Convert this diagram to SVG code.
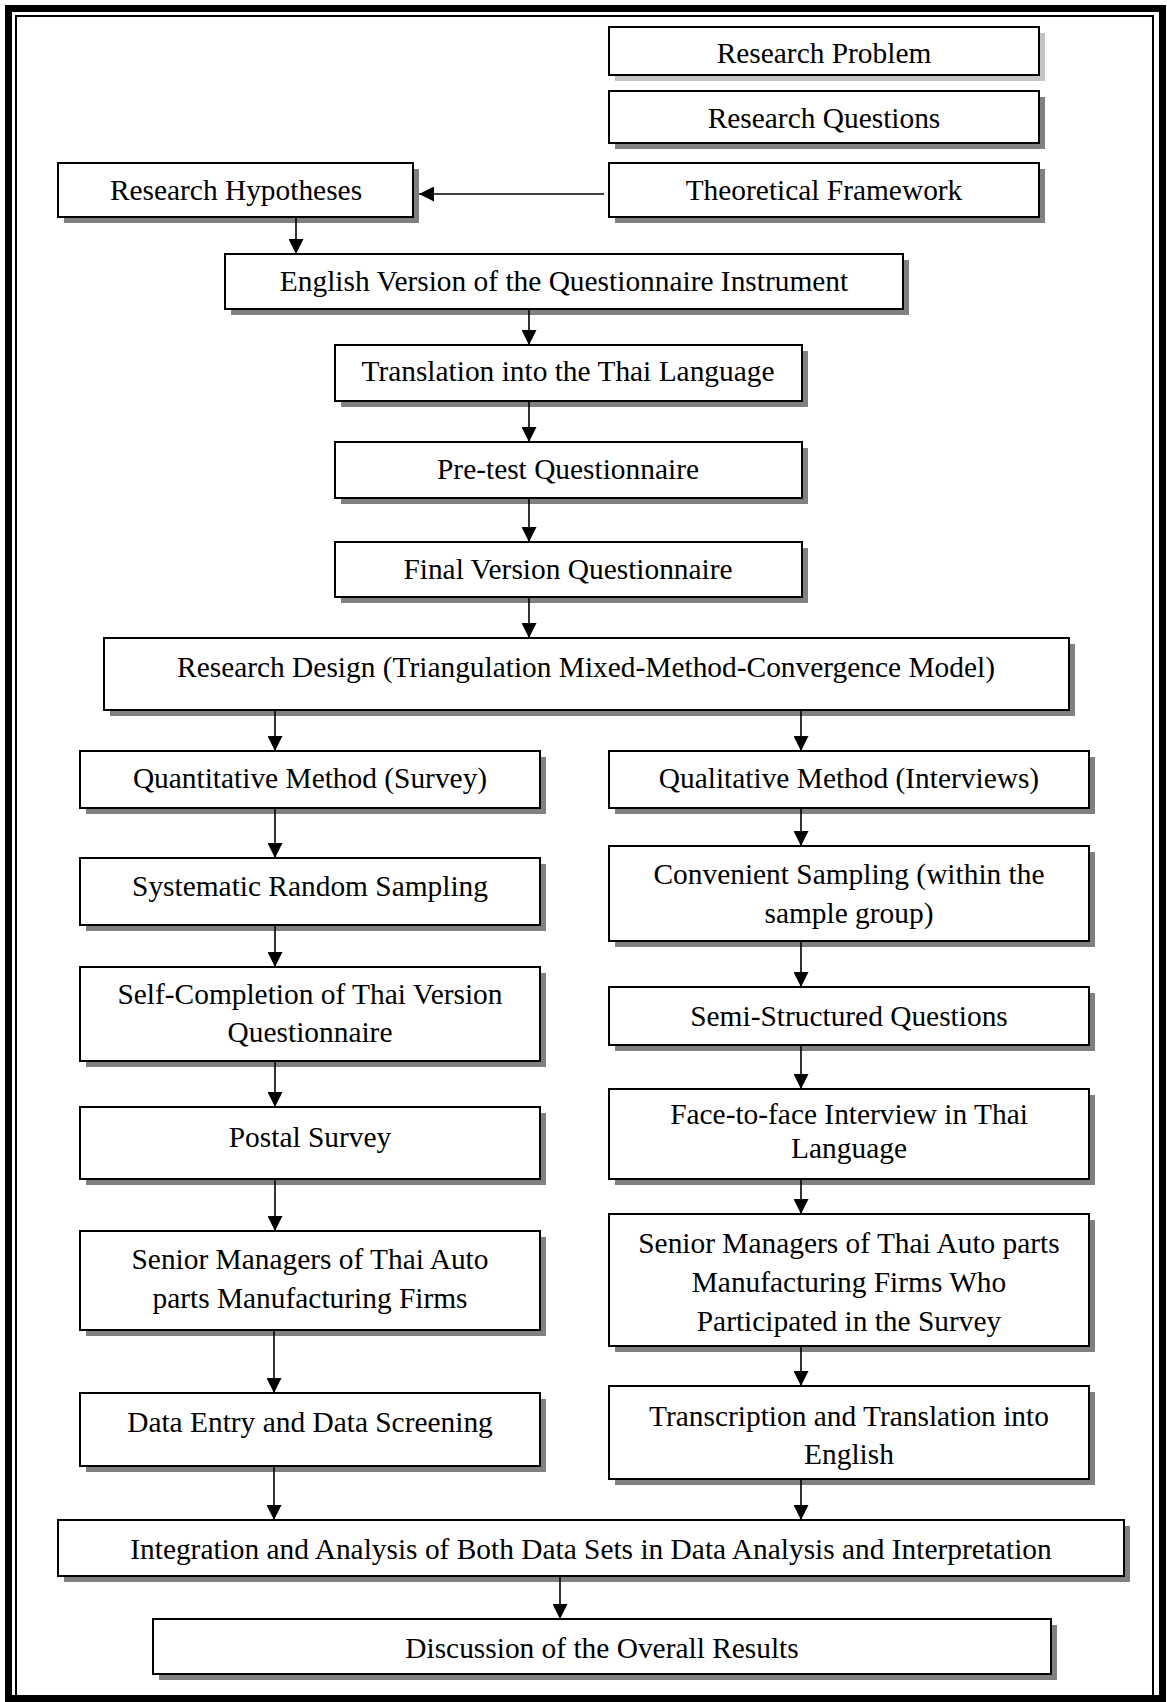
<svg xmlns="http://www.w3.org/2000/svg" width="1167" height="1702" viewBox="0 0 1167 1702">
  <style>
    .shadow { fill: #808080; }
    .shadow-light { fill: #c4c4c4; }
    .box { fill: #ffffff; stroke: #000000; stroke-width: 2; }
    .lbl { font-family: "Liberation Serif", "Times New Roman", serif; font-size: 29.4px; fill: #000000; text-anchor: middle; }
    .conn { stroke: #000000; stroke-width: 1.6; fill: none; marker-end: url(#ah); }
  </style>
  <defs>
    <marker id="ah" markerWidth="15" markerHeight="15" refX="15" refY="7.5" orient="auto" markerUnits="userSpaceOnUse">
      <path d="M0,0 L15,7.5 L0,15 Z" fill="#000000"/>
    </marker>
  </defs>

  <rect width="1167" height="1702" fill="#ffffff"/>

  <!-- double page frame -->
  <rect x="8.5" y="8.5" width="1154" height="1690" fill="none" stroke="#000000" stroke-width="7"/>
  <rect x="16" y="16" width="1137" height="1680" fill="none" stroke="#000000" stroke-width="2"/>

  <!-- nodes -->
  <g id="research-problem">
    <rect class="shadow-light" x="615" y="33" width="430" height="48"/>
    <rect class="box" x="609" y="27" width="430" height="48"/>
    <text class="lbl" x="824" y="63">Research Problem</text>
  </g>
  <g id="research-questions">
    <rect class="shadow" x="615" y="97" width="430" height="52"/>
    <rect class="box" x="609" y="91" width="430" height="52"/>
    <text class="lbl" x="824" y="128">Research Questions</text>
  </g>
  <g id="theoretical-framework">
    <rect class="shadow" x="615" y="169" width="430" height="54"/>
    <rect class="box" x="609" y="163" width="430" height="54"/>
    <text class="lbl" x="824" y="200">Theoretical Framework</text>
  </g>
  <g id="research-hypotheses">
    <rect class="shadow" x="64" y="169" width="355" height="54"/>
    <rect class="box" x="58" y="163" width="355" height="54"/>
    <text class="lbl" x="236" y="200">Research Hypotheses</text>
  </g>
  <g id="english-version">
    <rect class="shadow" x="231" y="260" width="678" height="55"/>
    <rect class="box" x="225" y="254" width="678" height="55"/>
    <text class="lbl" x="564" y="291">English Version of the Questionnaire Instrument</text>
  </g>
  <g id="translation">
    <rect class="shadow" x="341" y="351" width="467" height="56"/>
    <rect class="box" x="335" y="345" width="467" height="56"/>
    <text class="lbl" x="568" y="381">Translation into the Thai Language</text>
  </g>
  <g id="pre-test">
    <rect class="shadow" x="341" y="448" width="467" height="56"/>
    <rect class="box" x="335" y="442" width="467" height="56"/>
    <text class="lbl" x="568" y="479">Pre-test Questionnaire</text>
  </g>
  <g id="final-version">
    <rect class="shadow" x="341" y="548" width="467" height="55"/>
    <rect class="box" x="335" y="542" width="467" height="55"/>
    <text class="lbl" x="568" y="579">Final Version Questionnaire</text>
  </g>
  <g id="research-design">
    <rect class="shadow" x="110" y="644" width="965" height="72"/>
    <rect class="box" x="104" y="638" width="965" height="72"/>
    <text class="lbl" x="586" y="677">Research Design (Triangulation Mixed-Method-Convergence Model)</text>
  </g>

  <g id="quantitative-method">
    <rect class="shadow" x="86" y="757" width="460" height="57"/>
    <rect class="box" x="80" y="751" width="460" height="57"/>
    <text class="lbl" x="310" y="788">Quantitative Method (Survey)</text>
  </g>
  <g id="systematic-sampling">
    <rect class="shadow" x="86" y="864" width="460" height="67"/>
    <rect class="box" x="80" y="858" width="460" height="67"/>
    <text class="lbl" x="310" y="896">Systematic Random Sampling</text>
  </g>
  <g id="self-completion">
    <rect class="shadow" x="86" y="973" width="460" height="94"/>
    <rect class="box" x="80" y="967" width="460" height="94"/>
    <text class="lbl" x="310" y="1004">Self-Completion of Thai Version</text>
    <text class="lbl" x="310" y="1042">Questionnaire</text>
  </g>
  <g id="postal-survey">
    <rect class="shadow" x="86" y="1113" width="460" height="72"/>
    <rect class="box" x="80" y="1107" width="460" height="72"/>
    <text class="lbl" x="310" y="1147">Postal Survey</text>
  </g>
  <g id="senior-managers-survey">
    <rect class="shadow" x="86" y="1237" width="460" height="99"/>
    <rect class="box" x="80" y="1231" width="460" height="99"/>
    <text class="lbl" x="310" y="1269">Senior Managers of Thai Auto</text>
    <text class="lbl" x="310" y="1308">parts Manufacturing Firms</text>
  </g>
  <g id="data-entry">
    <rect class="shadow" x="86" y="1399" width="460" height="73"/>
    <rect class="box" x="80" y="1393" width="460" height="73"/>
    <text class="lbl" x="310" y="1432">Data Entry and Data Screening</text>
  </g>

  <g id="qualitative-method">
    <rect class="shadow" x="615" y="757" width="480" height="57"/>
    <rect class="box" x="609" y="751" width="480" height="57"/>
    <text class="lbl" x="849" y="788">Qualitative Method (Interviews)</text>
  </g>
  <g id="convenient-sampling">
    <rect class="shadow" x="615" y="852" width="480" height="95"/>
    <rect class="box" x="609" y="846" width="480" height="95"/>
    <text class="lbl" x="849" y="884">Convenient Sampling (within the</text>
    <text class="lbl" x="849" y="923">sample group)</text>
  </g>
  <g id="semi-structured">
    <rect class="shadow" x="615" y="993" width="480" height="58"/>
    <rect class="box" x="609" y="987" width="480" height="58"/>
    <text class="lbl" x="849" y="1026">Semi-Structured Questions</text>
  </g>
  <g id="face-to-face">
    <rect class="shadow" x="615" y="1095" width="480" height="90"/>
    <rect class="box" x="609" y="1089" width="480" height="90"/>
    <text class="lbl" x="849" y="1124">Face-to-face Interview in Thai</text>
    <text class="lbl" x="849" y="1158">Language</text>
  </g>
  <g id="senior-managers-interview">
    <rect class="shadow" x="615" y="1220" width="480" height="132"/>
    <rect class="box" x="609" y="1214" width="480" height="132"/>
    <text class="lbl" x="849" y="1253">Senior Managers of Thai Auto parts</text>
    <text class="lbl" x="849" y="1292">Manufacturing Firms Who</text>
    <text class="lbl" x="849" y="1331">Participated in the Survey</text>
  </g>
  <g id="transcription">
    <rect class="shadow" x="615" y="1392" width="480" height="93"/>
    <rect class="box" x="609" y="1386" width="480" height="93"/>
    <text class="lbl" x="849" y="1426">Transcription and Translation into</text>
    <text class="lbl" x="849" y="1464">English</text>
  </g>

  <g id="integration">
    <rect class="shadow" x="64" y="1526" width="1066" height="56"/>
    <rect class="box" x="58" y="1520" width="1066" height="56"/>
    <text class="lbl" x="591" y="1559">Integration and Analysis of Both Data Sets in Data Analysis and Interpretation</text>
  </g>
  <g id="discussion">
    <rect class="shadow" x="159" y="1625" width="898" height="55"/>
    <rect class="box" x="153" y="1619" width="898" height="55"/>
    <text class="lbl" x="602" y="1658">Discussion of the Overall Results</text>
  </g>

  <!-- connectors -->
  <g id="connectors">
    <line class="conn" x1="604" y1="194" x2="419" y2="194"/>
    <line class="conn" x1="296" y1="217" x2="296" y2="254"/>
    <line class="conn" x1="529" y1="309" x2="529" y2="345"/>
    <line class="conn" x1="529" y1="401" x2="529" y2="442"/>
    <line class="conn" x1="529" y1="498" x2="529" y2="542"/>
    <line class="conn" x1="529" y1="597" x2="529" y2="638"/>
    <line class="conn" x1="275" y1="710" x2="275" y2="751"/>
    <line class="conn" x1="801" y1="710" x2="801" y2="751"/>
    <line class="conn" x1="275" y1="808" x2="275" y2="858"/>
    <line class="conn" x1="275" y1="925" x2="275" y2="967"/>
    <line class="conn" x1="275" y1="1061" x2="275" y2="1107"/>
    <line class="conn" x1="275" y1="1179" x2="275" y2="1231"/>
    <line class="conn" x1="274" y1="1330" x2="274" y2="1393"/>
    <line class="conn" x1="274" y1="1466" x2="274" y2="1520"/>
    <line class="conn" x1="801" y1="808" x2="801" y2="846"/>
    <line class="conn" x1="801" y1="941" x2="801" y2="987"/>
    <line class="conn" x1="801" y1="1045" x2="801" y2="1089"/>
    <line class="conn" x1="801" y1="1179" x2="801" y2="1214"/>
    <line class="conn" x1="801" y1="1346" x2="801" y2="1386"/>
    <line class="conn" x1="801" y1="1479" x2="801" y2="1520"/>
    <line class="conn" x1="560" y1="1576" x2="560" y2="1619"/>
  </g>
</svg>
